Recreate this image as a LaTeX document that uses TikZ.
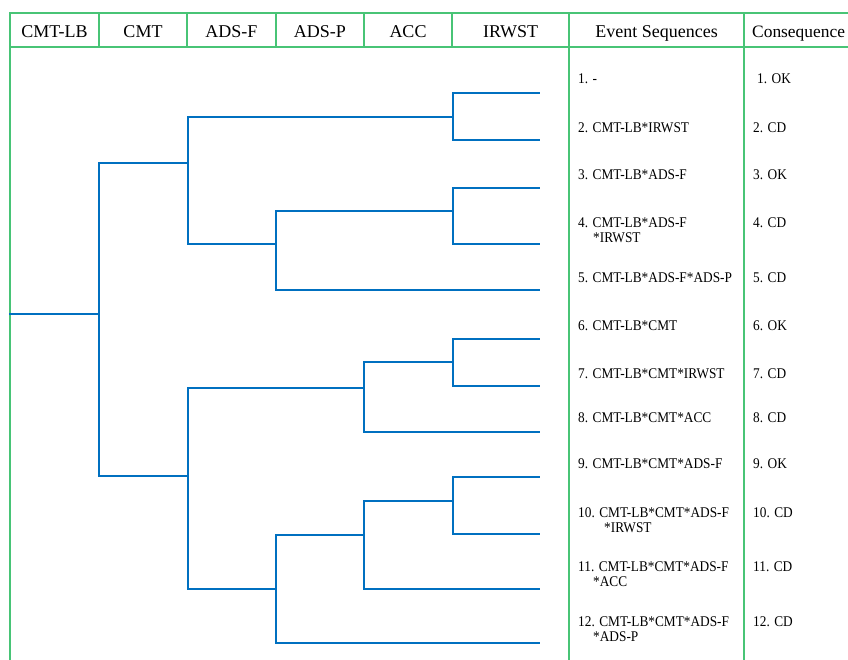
\documentclass[tikz,border=0pt]{standalone}
\usepackage{fontspec}
\setmainfont{Liberation Serif}
\newfontfamily\evfont[FakeStretch=0.9]{Liberation Serif}
\definecolor{gridgreen}{RGB}{72,196,118}
\definecolor{treeblue}{RGB}{0,112,192}
\begin{document}
\begin{tikzpicture}[x=1pt,y=-1pt,
  grid/.style={draw=gridgreen,line width=1.3pt},
  branch/.style={draw=treeblue,line width=1.9pt,line cap=rect},
  hdr/.style={anchor=base,inner sep=0pt,font=\fontsize{18}{20}\selectfont},
  evtext/.style={anchor=base west,inner sep=0pt,font=\evfont\fontsize{14.8}{16}\selectfont},
  cqtext/.style={anchor=base west,inner sep=0pt,font=\evfont\fontsize{14.8}{16}\selectfont}]
\clip (0,0) rectangle (848,659);
\fill[white] (0,0) rectangle (848,659);

% table frame
\coordinate (tl) at (10,13);
\coordinate (tr) at (860,13);
\coordinate (hl) at (10,47);
\coordinate (hr) at (860,47);
\coordinate (bl) at (10,670);
\draw[grid] (tr) -- (tl) -- (bl);
\draw[grid] (hl) -- (hr);
\foreach \cx in {99,187,276,364,452}
  \draw[grid] (\cx,13) -- (\cx,47);
\draw[grid] (569,13) -- (569,670);
\draw[grid] (744,13) -- (744,670);

% header labels
\node[hdr] (h1) at (54.5,37.5) {CMT-LB};
\node[hdr] (h2) at (143,37.5) {CMT};
\node[hdr] (h3) at (231.5,37.5) {ADS-F};
\node[hdr] (h4) at (320,37.5) {ADS-P};
\node[hdr] (h5) at (408,37.5) {ACC};
\node[hdr] (h6) at (510.5,37.5) {IRWST};
\node[hdr] (h7) at (656.5,37.5) {Event Sequences};
\node[hdr,anchor=base west,font=\fontsize{17.4}{20}\selectfont] (h8) at (752,37.5) {Consequence};

% branch points of the event tree
\coordinate (R) at (10,314);
\coordinate (A) at (99,314);
\coordinate (B) at (188,163);
\coordinate (C) at (453,117);
\coordinate (D) at (276,244);
\coordinate (E) at (453,211);
\coordinate (F) at (188,476);
\coordinate (G) at (364,388);
\coordinate (I) at (453,362);
\coordinate (H) at (276,589);
\coordinate (K) at (364,535);
\coordinate (M) at (453,501);
% branch ends
\coordinate (L1) at (539,93);
\coordinate (L2) at (539,140);
\coordinate (L3) at (539,188);
\coordinate (L4) at (539,244);
\coordinate (L5) at (539,290);
\coordinate (L6) at (539,339);
\coordinate (L7) at (539,386);
\coordinate (L8) at (539,432);
\coordinate (L9) at (539,477);
\coordinate (L10) at (539,534);
\coordinate (L11) at (539,589);
\coordinate (L12) at (539,643);

\draw[branch] (R) -- (A);
\draw[branch] (A) |- (B);  \draw[branch] (A) |- (F);
\draw[branch] (B) |- (C);  \draw[branch] (B) |- (D);
\draw[branch] (C) |- (L1); \draw[branch] (C) |- (L2);
\draw[branch] (D) |- (E);  \draw[branch] (D) |- (L5);
\draw[branch] (E) |- (L3); \draw[branch] (E) |- (L4);
\draw[branch] (F) |- (G);  \draw[branch] (F) |- (H);
\draw[branch] (G) |- (I);  \draw[branch] (G) |- (L8);
\draw[branch] (I) |- (L6); \draw[branch] (I) |- (L7);
\draw[branch] (H) |- (K);  \draw[branch] (H) |- (L12);
\draw[branch] (K) |- (M);  \draw[branch] (K) |- (L11);
\draw[branch] (M) |- (L9); \draw[branch] (M) |- (L10);

% event sequences
\node[evtext] (e1) at (578,83) {1. -};
\node[evtext] (e2) at (578,132) {2. CMT-LB*IRWST};
\node[evtext] (e3) at (578,179) {3. CMT-LB*ADS-F};
\node[evtext] (e4) at (578,227) {4. CMT-LB*ADS-F};
\node[evtext] (e4b) at (593,242) {*IRWST};
\node[evtext] (e5) at (578,282) {5. CMT-LB*ADS-F*ADS-P};
\node[evtext] (e6) at (578,330) {6. CMT-LB*CMT};
\node[evtext] (e7) at (578,378) {7. CMT-LB*CMT*IRWST};
\node[evtext] (e8) at (578,422) {8. CMT-LB*CMT*ACC};
\node[evtext] (e9) at (578,468) {9. CMT-LB*CMT*ADS-F};
\node[evtext] (e10) at (578,517) {10. CMT-LB*CMT*ADS-F};
\node[evtext] (e10b) at (604,532) {*IRWST};
\node[evtext] (e11) at (578,571) {11. CMT-LB*CMT*ADS-F};
\node[evtext] (e11b) at (593,586) {*ACC};
\node[evtext] (e12) at (578,626) {12. CMT-LB*CMT*ADS-F};
\node[evtext] (e12b) at (593,641) {*ADS-P};

% consequences
\node[cqtext] (c1) at (757,83) {1. OK};
\node[cqtext] (c2) at (753,132) {2. CD};
\node[cqtext] (c3) at (753,179) {3. OK};
\node[cqtext] (c4) at (753,227) {4. CD};
\node[cqtext] (c5) at (753,282) {5. CD};
\node[cqtext] (c6) at (753,330) {6. OK};
\node[cqtext] (c7) at (753,378) {7. CD};
\node[cqtext] (c8) at (753,422) {8. CD};
\node[cqtext] (c9) at (753,468) {9. OK};
\node[cqtext] (c10) at (753,517) {10. CD};
\node[cqtext] (c11) at (753,571) {11. CD};
\node[cqtext] (c12) at (753,626) {12. CD};
\end{tikzpicture}
\end{document}
